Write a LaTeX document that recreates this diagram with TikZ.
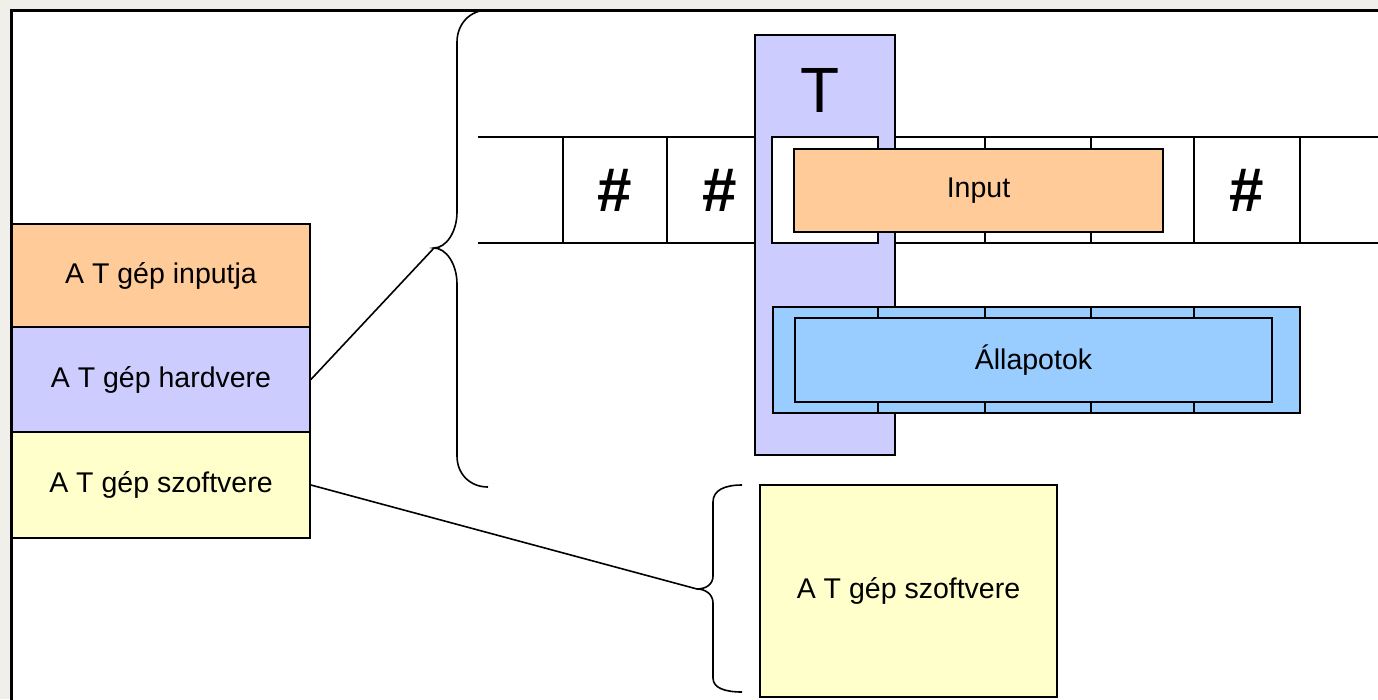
\documentclass[tikz,border=0pt]{standalone}
\usepackage{fontspec}
\setmainfont{Liberation Sans}
\definecolor{inputcol}{HTML}{FFCC99}
\definecolor{hwcol}{HTML}{CCCCFF}
\definecolor{swcol}{HTML}{FFFFCC}
\definecolor{statecol}{HTML}{99CCFF}
\definecolor{pagecol}{HTML}{F1EFEA}
\begin{document}
\begin{tikzpicture}[x=1pt,y=-1pt,
  box/.style={draw=black, line width=1.8pt, inner sep=0pt, font=\fontsize{28.5}{32}\selectfont},
  cell/.style={draw=black, line width=1.8pt, inner sep=0pt, minimum height=106, font=\fontsize{62}{66}\selectfont\bfseries},
  brace/.style={draw=black, line width=1.6pt},
  conn/.style={draw=black, line width=1.6pt}]
\useasboundingbox (0,0) rectangle (1378,699);
\begin{scope}
\clip (0,0) rectangle (1378,699);
% page behind the slide and the slide itself
\fill[pagecol] (0,0) rectangle (1378,699);
\fill[white] (11,10) rectangle (1390,710);
\draw[line width=3pt] (11,712) -- (11,10) -- (1392,10);

% the three layers of the machine
\node[box, fill=inputcol, minimum width=298, minimum height=103] (inp) at (161,275.5) {A T gép inputja};
\node[box, fill=hwcol, minimum width=298, minimum height=105] (hw) at (161,379.5) {A T gép hardvere};
\node[box, fill=swcol, minimum width=298, minimum height=106] (sw) at (161,485) {A T gép szoftvere};

% tape
\draw[line width=1.8pt] (478,137) -- (1392,137);
\draw[line width=1.8pt] (478,243) -- (1392,243);
\node[cell, minimum width=104] (c1) at (615,190) {\#};
\node[cell, minimum width=105] (c2) at (719.5,190) {\#};
\node[cell, minimum width=107] (c4) at (931.5,190) {};
\node[cell, minimum width=106] (c5) at (1038,190) {};
\node[cell, minimum width=103] (c6) at (1142.5,190) {};
\node[cell, minimum width=106] (c7) at (1247,190) {\#};

% read/write head
\node[box, fill=hwcol, minimum width=140, minimum height=420] (head) at (825,245) {};
\node[font=\fontsize{64}{68}\selectfont, inner sep=0pt] (tlabel) at (820,90) {T};
\node[cell, fill=white, minimum width=106] (c3) at (825,190) {};

% input written on the tape
\node[box, fill=inputcol, minimum width=369, minimum height=83] (input) at (978.5,190.5) {Input};

% states of the control unit
\node[cell, fill=statecol, minimum width=105] (s1) at (825.5,360) {};
\node[cell, fill=statecol, minimum width=107] (s2) at (931.5,360) {};
\node[cell, fill=statecol, minimum width=106] (s3) at (1038,360) {};
\node[cell, fill=statecol, minimum width=103] (s4) at (1142.5,360) {};
\node[cell, fill=statecol, minimum width=106] (s5) at (1247,360) {};
\node[box, fill=statecol, minimum width=477, minimum height=84] (states) at (1033.5,360) {Állapotok};

% software box
\node[box, fill=swcol, minimum width=297, minimum height=212] (soft) at (908.5,591) {A T gép szoftvere};

% braces
\coordinate (b1tip) at (434,248);
\coordinate (b2tip) at (697,589);
\draw[brace] (488,10) .. controls (470,10) and (457,24) .. (457,42) -- (457,212)
  .. controls (457,232) and (446,248) .. (b1tip)
  .. controls (446,248) and (457,264) .. (457,284) -- (457,456)
  .. controls (457,474) and (470,487) .. (488,487);
\draw[brace] (742,485) .. controls (725,485) and (713,490) .. (713,502) -- (713,576)
  .. controls (713,585) and (705,589) .. (b2tip)
  .. controls (705,589) and (713,594) .. (713,603) -- (713,678)
  .. controls (713,688) and (725,692) .. (742,692);

% connectors
\draw[conn] (hw.east) -- (b1tip);
\draw[conn] (sw.east) -- (b2tip);
\end{scope}
\end{tikzpicture}
\end{document}
